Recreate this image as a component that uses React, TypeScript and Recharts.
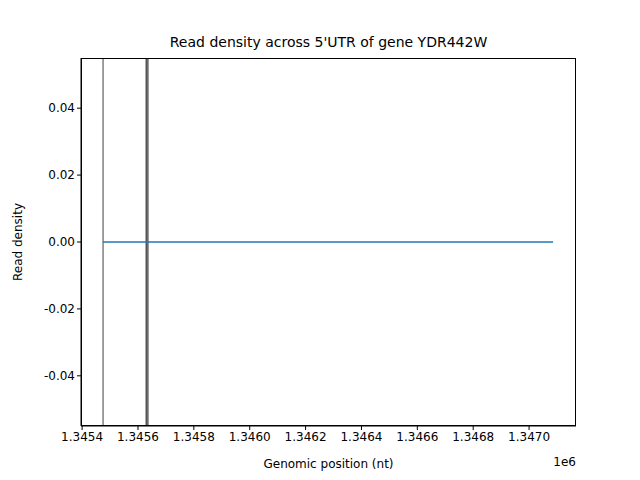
import { LineChart, Line, XAxis, YAxis, ReferenceLine } from "recharts"

const positions = [1345475, 1347086]
const density = [0, 0]
const markers = [1345475, 1345629, 1345632, 1345636]
const xTicks = [1345400, 1345600, 1345800, 1346000, 1346200, 1346400, 1346600, 1346800, 1347000]
const yTicks = [-0.04, -0.02, 0, 0.02, 0.04]

const data = positions.map((x, i) => ({ x, y: density[i] }))
const font = "DejaVu Sans, sans-serif"

export default function App() {
  return (
    <div style={{ position: "absolute", left: 0, top: 0, width: 640, height: 480, background: "#fff", fontFamily: font }}>
      <div style={{ position: "absolute", top: 34, width: 640, paddingLeft: 17, boxSizing: "border-box", textAlign: "center", fontSize: 14 }}>
        Read density across 5'UTR of gene YDR442W
      </div>
      <LineChart width={640} height={480} data={data} margin={{ top: 58, right: 64, bottom: 24, left: 10 }}>
        <XAxis
          dataKey="x"
          type="number"
          height={30}
          domain={[1345396, 1347168]}
          ticks={xTicks}
          tickFormatter={(v: number) => (v / 1e6).toFixed(4)}
          tick={{ fill: "#000", fontSize: 12, fontFamily: font }}
          tickLine={{ stroke: "#000" }}
          axisLine={{ stroke: "#000" }}
          tickSize={4}
          label={{ value: "Genomic position (nt)", position: "insideBottom", offset: -12, fill: "#000", fontSize: 12, fontFamily: font }}
        />
        <YAxis
          type="number"
          width={71}
          domain={[-0.055, 0.055]}
          ticks={yTicks}
          tickFormatter={(v: number) => v.toFixed(2)}
          tick={{ fill: "#000", fontSize: 12, fontFamily: font }}
          tickLine={{ stroke: "#000" }}
          axisLine={{ stroke: "#000" }}
          tickSize={4}
          label={{ value: "Read density", angle: -90, position: "insideLeft", offset: 8, fill: "#000", fontSize: 12, fontFamily: font, style: { textAnchor: "middle" } }}
        />
        {markers.map((m) => (
          <ReferenceLine key={m} x={m} stroke="#000" strokeOpacity={0.5} strokeWidth={1.5} />
        ))}
        <Line dataKey="y" stroke="#1f77b4" strokeWidth={1.5} dot={false} isAnimationActive={false} />
        <text x={576} y={466} textAnchor="end" fontSize={12} fontFamily={font}>1e6</text>
      </LineChart>
      <div style={{ position: "absolute", left: 81, top: 58, width: 495, height: 368, border: "1px solid #000", boxSizing: "border-box", pointerEvents: "none" }} />
    </div>
  )
}
